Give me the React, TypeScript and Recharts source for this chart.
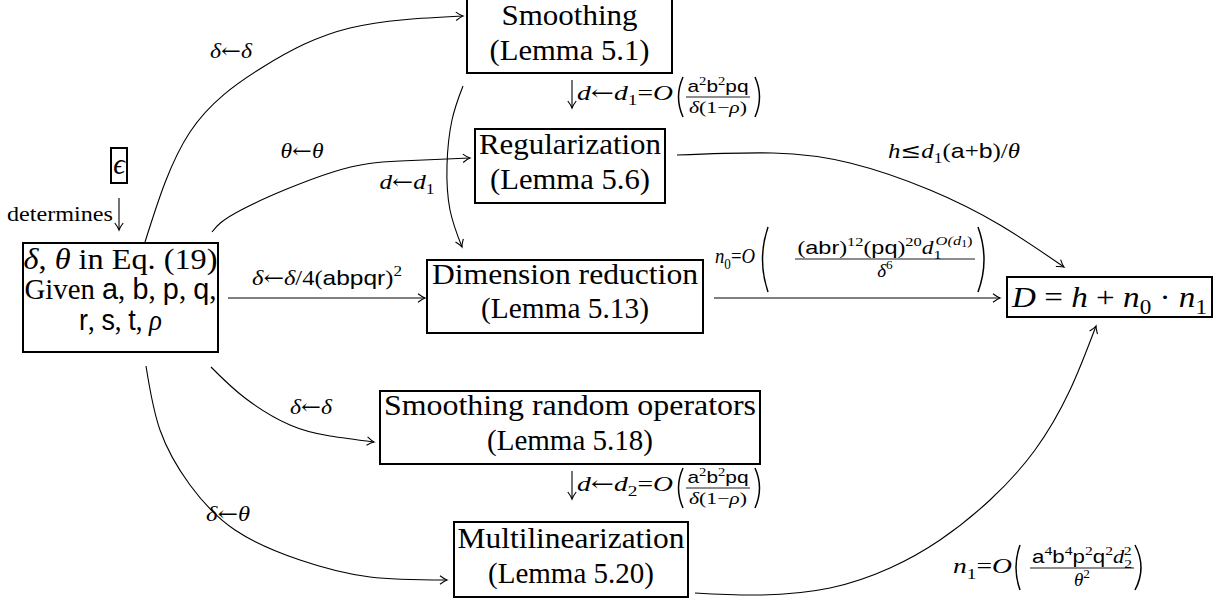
import React from 'react';
import { ComposedChart, Line, Scatter, XAxis, YAxis } from 'recharts';

const W = 1224;
const H = 603;
const SERIF = 'Liberation Serif, DejaVu Serif, serif';
const SANS = 'Liberation Sans, DejaVu Sans, sans-serif';
const SYM = 'DejaVu Serif, DejaVu Sans, serif';

type Seg = { t: string; f?: 'r' | 'i' | 's' | 'a'; k?: number; d?: number; dx?: number };
const r = (t: string): Seg => ({ t, f: 'r' });
const it = (t: string): Seg => ({ t, f: 'i' });
const sf = (t: string): Seg => ({ t, f: 's' });
const ar = (t: string): Seg => ({ t, f: 'a' });
const sub = (s: Seg): Seg => ({ ...s, k: 0.7, d: 0.25 });
const sup = (s: Seg): Seg => ({ ...s, k: 0.7, d: -0.42 });

// ---------- nodes (box centres) ----------
const nodes = [
  { id: 'smooth', x: 569.5, y: 35.5 },
  { id: 'reg', x: 570, y: 166 },
  { id: 'left', x: 120.5, y: 297.5 },
  { id: 'eps', x: 119, y: 165.5 },
  { id: 'dim', x: 565, y: 296.5 },
  { id: 'D', x: 1109.5, y: 297 },
  { id: 'sro', x: 570, y: 427.5 },
  { id: 'multi', x: 571, y: 559.5 },
];

const boxText: Record<string, Seg[][]> = {
  smooth: [[r('Smoothing')], [r('(Lemma 5.1)')]],
  reg: [[r('Regularization')], [r('(Lemma 5.6)')]],
  left: [
    [it('δ'), r(', '), it('θ'), r(' in Eq. (19)')],
    [r('Given '), sf('a'), r(', '), sf('b'), r(', '), sf('p'), r(', '), sf('q'), r(',')],
    [sf('r'), r(', '), sf('s'), r(', '), sf('t'), r(', '), it('ρ')],
  ],
  eps: [[it('ϵ')]],
  dim: [[r('Dimension reduction')], [r('(Lemma 5.13)')]],
  D: [[it('D'), r(' = '), it('h'), r(' + '), it('n'), sub(r('0')), r(' · '), it('n'), sub(r('1'))]],
  sro: [[r('Smoothing random operators')], [r('(Lemma 5.18)')]],
  multi: [[r('Multilinearization')], [r('(Lemma 5.20)')]],
};

// ---------- edge labels ----------
const labels = [
  { id: 'dd1', x: 231, y: 58 },
  { id: 'tt', x: 302, y: 158 },
  { id: 'dd1b', x: 407, y: 189 },
  { id: 'det', x: 113, y: 221 },
  { id: 'd1', x: 572, y: 100 },
  { id: 'h', x: 954, y: 158 },
  { id: 'd4', x: 327, y: 285 },
  { id: 'n0', x: 715, y: 263 },
  { id: 'dd2', x: 311, y: 414 },
  { id: 'd2', x: 572, y: 491 },
  { id: 'dt', x: 228, y: 521 },
  { id: 'n1', x: 953, y: 573 },
];

const txtDeltaDelta: Seg[] = [it('δ'), ar('←'), it('δ')];
const txtThetaTheta: Seg[] = [it('θ'), ar('←'), it('θ')];
const txtDeltaTheta: Seg[] = [it('δ'), ar('←'), it('θ')];
const txtDD1: Seg[] = [it('d'), ar('←'), it('d'), sub(r('1'))];
const txtD1: Seg[] = [it('d'), ar('←'), it('d'), sub(r('1')), r('='), it('O')];
const txtD2: Seg[] = [it('d'), ar('←'), it('d'), sub(r('2')), r('='), it('O')];
const fracNumAB: Seg[] = [sf('a'), sup(r('2')), sf('b'), sup(r('2')), sf('pq')];
const fracDenRho: Seg[] = [it('δ'), r('(1−'), it('ρ'), r(')')];
const txtH: Seg[] = [it('h'), ar('≤'), it('d'), sub(r('1')), r('('), sf('a'), r('+'), sf('b'), r(')/'), it('θ')];
const txtD4: Seg[] = [it('δ'), ar('←'), it('δ'), r('/4('), sf('abpqr'), r(')'), sup(r('2'))];
const txtN0: Seg[] = [it('n'), sub(r('0')), r('='), it('O')];
const n0Num: Seg[] = [
  r('('), sf('abr'), r(')'), sup(r('12')), r('('), sf('pq'), r(')'), sup(r('20')),
  it('d'), sub(r('1')),
  { t: 'O(', f: 'i', k: 0.7, d: -0.5, dx: -5 }, { t: 'd', f: 'i', k: 0.7, d: -0.5 },
  { t: '1', f: 'r', k: 0.5, d: -0.38 }, { t: ')', f: 'r', k: 0.7, d: -0.5 },
];
const n0Den: Seg[] = [it('δ'), sup(r('6'))];
const txtN1: Seg[] = [it('n'), sub(r('1')), r('='), it('O')];
const n1Num: Seg[] = [
  sf('a'), sup(r('4')), sf('b'), sup(r('4')), sf('p'), sup(r('2')), sf('q'), sup(r('2')),
  it('d'), sub(r('2')), { t: '2', f: 'r', k: 0.7, d: -0.42, dx: -7 },
];
const n1Den: Seg[] = [it('θ'), sup(r('2'))];

// ---------- edges ----------
const edgeToSmooth = [{ x: 145, y: 242 }, { x: 190, y: 132 }, { x: 263, y: 67 }, { x: 350, y: 28 }, { x: 463, y: 16 }];
const edgeToReg = [{ x: 212, y: 232 }, { x: 243, y: 209 }, { x: 333, y: 172 }, { x: 400, y: 161 }, { x: 470, y: 158 }];
const edgeSmoothDim = [{ x: 463, y: 86 }, { x: 452, y: 120 }, { x: 447, y: 165 }, { x: 450, y: 210 }, { x: 462, y: 247 }];
const edgeRegD = [{ x: 677, y: 155 }, { x: 773, y: 153 }, { x: 850, y: 163 }, { x: 930, y: 190 }, { x: 1000, y: 225 }, { x: 1064, y: 267 }];
const edgeLeftDim = [{ x: 228, y: 298 }, { x: 425, y: 298 }];
const edgeDimD = [{ x: 714, y: 298 }, { x: 1000, y: 298 }];
const edgeLeftSro = [{ x: 211, y: 367 }, { x: 245, y: 398 }, { x: 290, y: 425 }, { x: 330, y: 436 }, { x: 374, y: 442 }];
const edgeLeftMulti = [{ x: 146, y: 366 }, { x: 160, y: 430 }, { x: 190, y: 485 }, { x: 235, y: 530 }, { x: 300, y: 560 }, { x: 370, y: 577 }, { x: 447, y: 580 }];
const edgeMultiD = [{ x: 695, y: 593 }, { x: 760, y: 595 }, { x: 830, y: 588 }, { x: 890, y: 568 }, { x: 940, y: 540 }, { x: 990, y: 500 }, { x: 1035, y: 450 }, { x: 1070, y: 390 }, { x: 1096, y: 326 }];

const curvedEdges = [edgeToSmooth, edgeToReg, edgeSmoothDim, edgeRegD, edgeLeftSro, edgeLeftMulti, edgeMultiD];
const straightEdges = [edgeLeftDim, edgeDimD];

// ---------- layout styles ----------
const boxSize: Record<string, [number, number]> = {
  smooth: [205, 75], reg: [190, 74], left: [195, 109], eps: [16, 35],
  dim: [276, 73], D: [205, 40], sro: [380, 73], multi: [234, 75],
};
const lineOffsets: Record<string, number[]> = {
  smooth: [-10.5, 24], reg: [-12, 23], left: [-28.5, 1.5, 32.5], eps: [8],
  dim: [-12.5, 21.5], D: [10], sro: [-12.5, 22.5], multi: [-11.5, 23.5],
};
const lineLengths: Record<string, (number | undefined)[]> = {
  smooth: [136, 160], reg: [182, 160], left: [194, 192, 83], eps: [undefined],
  dim: [266, 168], D: [195], sro: [372, 166], multi: [227, 166],
};

function famOf(f?: string) {
  if (f === 's') return SANS;
  if (f === 'a') return SYM;
  return SERIF;
}

function Rich({ x, y, size, segs, anchor = 'middle', len }: { x: number; y: number; size: number; segs: Seg[]; anchor?: string; len?: number }) {
  let cur = 0;
  return (
    <text
      x={x}
      y={y}
      fontSize={size}
      textAnchor={anchor as any}
      fill="#000"
      xmlSpace="preserve"
      style={{ whiteSpace: 'pre', fontFamily: SERIF }}
      textLength={len}
      lengthAdjust={len ? 'spacingAndGlyphs' : undefined}
    >
      {segs.map((s, i) => {
        const target = (s.d ?? 0) * size;
        const dy = target - cur;
        cur = target;
        return (
          <tspan
            key={i}
            dy={dy}
            dx={s.dx}
            style={{
              fontFamily: famOf(s.f),
              fontStyle: s.f === 'i' ? 'italic' : 'normal',
              fontSize: size * (s.k ?? 1),
            }}
          >
            {s.t}
          </tspan>
        );
      })}
    </text>
  );
}

function Paren({ x, y1, y2, bulge }: { x: number; y1: number; y2: number; bulge: number }) {
  const mid = (y1 + y2) / 2;
  return <path d={`M ${x} ${y1} Q ${x + bulge * 2} ${mid} ${x} ${y2}`} fill="none" stroke="#000" strokeWidth={1.5} />;
}

function ArrowDown({ x, y1, y2 }: { x: number; y1: number; y2: number }) {
  return <line x1={x} y1={y1} x2={x} y2={y2} stroke="#000" strokeWidth={1.1} markerEnd="url(#arrowHead)" />;
}

function Frac({ x, y, w, num, den, size, numLen, denLen }: { x: number; y: number; w: number; num: Seg[]; den: Seg[]; size: number; numLen?: number; denLen?: number }) {
  return (
    <g>
      <Rich x={x} y={y - 5} size={size} segs={num} len={numLen} />
      <line x1={x - w / 2} x2={x + w / 2} y1={y} y2={y} stroke="#000" strokeWidth={0.9} />
      <Rich x={x} y={y + size * 0.95} size={size} segs={den} len={denLen} />
    </g>
  );
}

function NodeShape(props: any) {
  const { cx, cy, payload } = props;
  const id = payload.id as string;
  const [w, h] = boxSize[id];
  const lines = boxText[id];
  const offs = lineOffsets[id];
  const lens = lineLengths[id];
  return (
    <g>
      <rect x={cx - w / 2} y={cy - h / 2} width={w} height={h} fill="#fff" stroke="#000" strokeWidth={2} />
      {lines.map((segs, i) => (
        <Rich key={i} x={cx} y={cy + offs[i]} size={29} segs={segs} len={lens[i]} />
      ))}
    </g>
  );
}

function DLabel({ cx, cy, main }: { cx: number; cy: number; main: Seg[] }) {
  return (
    <g>
      <ArrowDown x={cx} y1={cy - 20} y2={cy + 8} />
      <Rich x={cx + 5} y={cy} size={21} segs={main} anchor="start" len={96} />
      <Paren x={cx + 111} y1={cy - 23} y2={cy + 17} bulge={-4.5} />
      <Frac x={cx + 146} y={cy - 3} w={64} num={fracNumAB} den={fracDenRho} size={17} numLen={61} denLen={58} />
      <Paren x={cx + 183} y1={cy - 23} y2={cy + 17} bulge={4.5} />
    </g>
  );
}

function LabelShape(props: any) {
  const { cx, cy, payload } = props;
  switch (payload.id) {
    case 'dd1':
    case 'dd2':
      return <Rich x={cx} y={cy} size={21} segs={txtDeltaDelta} len={42} />;
    case 'tt':
      return <Rich x={cx} y={cy} size={21} segs={txtThetaTheta} len={43} />;
    case 'dt':
      return <Rich x={cx} y={cy} size={21} segs={txtDeltaTheta} len={44} />;
    case 'dd1b':
      return <Rich x={cx} y={cy} size={21} segs={txtDD1} len={55} />;
    case 'det':
      return (
        <g>
          <Rich x={cx} y={cy} size={21} segs={[r('determines')]} anchor="end" len={106} />
          <ArrowDown x={cx + 6} y1={cy - 23} y2={cy + 9} />
        </g>
      );
    case 'd1':
      return <DLabel cx={cx} cy={cy} main={txtD1} />;
    case 'd2':
      return <DLabel cx={cx} cy={cy} main={txtD2} />;
    case 'h':
      return <Rich x={cx} y={cy} size={21} segs={txtH} len={132} />;
    case 'd4':
      return <Rich x={cx} y={cy} size={21} segs={txtD4} len={150} />;
    case 'n0':
      return (
        <g>
          <Rich x={cx} y={cy} size={22} segs={txtN0} anchor="start" len={40} />
          <Paren x={cx + 53} y1={cy - 36} y2={cy + 29} bulge={-5.5} />
          <Frac x={cx + 170} y={cy - 4} w={180} num={n0Num} den={n0Den} size={19} numLen={175} />
          <Paren x={cx + 263} y1={cy - 36} y2={cy + 29} bulge={6} />
        </g>
      );
    case 'n1':
      return (
        <g>
          <Rich x={cx} y={cy} size={22} segs={txtN1} anchor="start" len={59} />
          <Paren x={cx + 67} y1={cy - 28} y2={cy + 17} bulge={-4} />
          <Frac x={cx + 129} y={cy - 5} w={104} num={n1Num} den={n1Den} size={19} numLen={100} />
          <Paren x={cx + 182} y1={cy - 28} y2={cy + 17} bulge={6} />
        </g>
      );
    default:
      return <g />;
  }
}

export default function App() {
  return (
    <div style={{ position: 'absolute', left: 0, top: 0, width: W, height: H, background: '#fff' }}>
      <ComposedChart width={W} height={H} margin={{ top: 0, right: 0, bottom: 0, left: 0 }}>
        <defs>
          <marker id="arrowHead" viewBox="-10 -6 12 12" refX="0" refY="0" markerWidth="12" markerHeight="12" markerUnits="userSpaceOnUse" orient="auto">
            <path d="M -7 -4.2 Q -2.5 -0.8 0 0 Q -2.5 0.8 -7 4.2" fill="none" stroke="#000" strokeWidth={1.1} />
          </marker>
        </defs>
        <XAxis type="number" dataKey="x" domain={[0, W]} hide allowDataOverflow />
        <YAxis type="number" dataKey="y" domain={[0, H]} reversed hide allowDataOverflow />
        {curvedEdges.map((e, i) => (
          <Line
            key={`c${i}`}
            data={e}
            dataKey="y"
            type="natural"
            stroke="#000"
            strokeWidth={1.1}
            dot={false}
            activeDot={false}
            legendType="none"
            isAnimationActive={false}
            markerEnd="url(#arrowHead)"
          />
        ))}
        {straightEdges.map((e, i) => (
          <Line
            key={`s${i}`}
            data={e}
            dataKey="y"
            type="linear"
            stroke="#000"
            strokeWidth={1.1}
            dot={false}
            activeDot={false}
            legendType="none"
            isAnimationActive={false}
            markerEnd="url(#arrowHead)"
          />
        ))}
        <Scatter data={nodes} shape={(p: any) => <NodeShape {...p} />} isAnimationActive={false} legendType="none" />
        <Scatter data={labels} shape={(p: any) => <LabelShape {...p} />} isAnimationActive={false} legendType="none" />
      </ComposedChart>
    </div>
  );
}
